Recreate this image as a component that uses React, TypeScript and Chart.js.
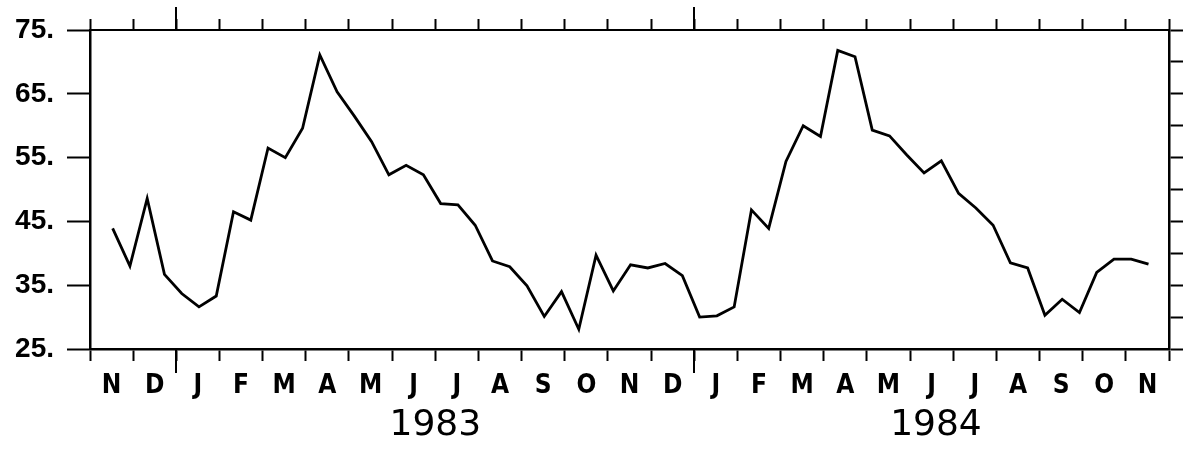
import React, { useEffect, useRef } from 'react';
import { Chart, registerables } from 'chart.js';

Chart.register(...registerables);

// Sampled series (one value every 0.4 month, starting mid-November 1982)
const VALUES = [
  43.9, 38.0, 48.6, 36.7, 33.7, 31.6, 33.3, 46.5, 45.2, 56.5,
  55.0, 59.6, 71.1, 65.3, 61.5, 57.5, 52.3, 53.8, 52.3, 47.8,
  47.6, 44.4, 38.8, 37.9, 34.9, 30.1, 34.0, 28.1, 39.7, 34.1,
  38.2, 37.7, 38.4, 36.5, 30.0, 30.2, 31.6, 46.8, 43.9, 54.4,
  60.0, 58.3, 71.8, 70.8, 59.3, 58.4, 55.4, 52.6, 54.5, 49.4,
  47.1, 44.4, 38.5, 37.7, 30.3, 32.8, 30.7, 37.0, 39.1, 39.1,
  38.3,
];
const FIRST_SAMPLE = 0.525; // months after 1 Nov 1982
const SAMPLE_STEP = 0.4; // months between samples

// Month boundaries (months after 1 Nov 1982) and their labels
const MONTH_EDGES = [
  0, 1, 2, 3, 4, 5, 6, 7, 8, 9, 10, 11, 12,
  13, 14, 15, 16, 17, 18, 19, 20, 21, 22, 23, 24, 25,
];
const MONTH_LABELS = [
  'N', 'D', 'J', 'F', 'M', 'A', 'M', 'J', 'J', 'A', 'S', 'O', 'N',
  'D', 'J', 'F', 'M', 'A', 'M', 'J', 'J', 'A', 'S', 'O', 'N',
];
const YEAR_STARTS = [2, 14];
const YEAR_LABELS = ['1983', '1984'];
const YEAR_LABEL_AT = [8.0, 19.6];

const Y_TICKS = [25, 30, 35, 40, 45, 50, 55, 60, 65, 70, 75];
const Y_TICK_LABELS = ['25.', '', '35.', '', '45.', '', '55.', '', '65.', '', '75.'];

const W = 1183;
const H = 450;
const PLOT_LEFT = 90;
const PLOT_RIGHT = 1169;
const PLOT_TOP = 30;
const PLOT_BOTTOM = 349;
const HALF_MONTH_PX = (PLOT_RIGHT - PLOT_LEFT) / (MONTH_EDGES.length - 1) / 2;

const BOLD_FONT = '"Liberation Sans", Arial, sans-serif';
const NARROW_FONT = '"Liberation Sans Narrow", "Arial Narrow", "DejaVu Sans Condensed", "Liberation Sans", sans-serif';

const yearPlugin = {
  id: 'yearMarks',
  afterDraw(chart: any) {
    const { ctx, chartArea } = chart;
    const xs = chart.scales.x;
    ctx.save();
    ctx.strokeStyle = '#000';
    ctx.lineWidth = 2;
    YEAR_STARTS.forEach((v) => {
      const px = Math.round(xs.getPixelForValue(v));
      ctx.beginPath();
      ctx.moveTo(px, chartArea.bottom);
      ctx.lineTo(px, chartArea.bottom + 24);
      ctx.moveTo(px, chartArea.top);
      ctx.lineTo(px, chartArea.top - 23);
      ctx.stroke();
    });
    ctx.fillStyle = '#000';
    ctx.font = '36px "DejaVu Sans", sans-serif';
    ctx.textAlign = 'center';
    ctx.textBaseline = 'middle';
    YEAR_LABELS.forEach((t, i) => {
      ctx.fillText(t, xs.getPixelForValue(YEAR_LABEL_AT[i]), chartArea.bottom + 77);
    });
    ctx.restore();
  },
};

export default function App() {
  const canvasRef = useRef<HTMLCanvasElement | null>(null);

  useEffect(() => {
    const canvas = canvasRef.current;
    if (!canvas) return;
    const points = VALUES.map((v, i) => ({ x: FIRST_SAMPLE + i * SAMPLE_STEP, y: v }));
    const chart = new Chart(canvas, {
      type: 'line',
      data: {
        datasets: [
          {
            data: points,
            borderColor: '#000',
            borderWidth: 2.8,
            borderJoinStyle: 'miter',
            pointRadius: 0,
            tension: 0,
            fill: false,
            xAxisID: 'x',
            yAxisID: 'y',
          },
        ],
      },
      options: {
        animation: false,
        responsive: false,
        devicePixelRatio: 1,
        events: [],
        layout: { padding: 0 },
        plugins: {
          legend: { display: false },
          tooltip: { enabled: false },
        },
        scales: {
          x: {
            type: 'linear',
            position: 'bottom',
            min: MONTH_EDGES[0],
            max: MONTH_EDGES[MONTH_EDGES.length - 1],
            afterBuildTicks: (s: any) => {
              s.ticks = MONTH_EDGES.map((v) => ({ value: v }));
            },
            afterFit: (s: any) => {
              s.height = H - PLOT_BOTTOM;
            },
            ticks: {
              autoSkip: false,
              maxRotation: 0,
              minRotation: 0,
              labelOffset: HALF_MONTH_PX,
              padding: 10,
              color: '#000',
              font: { family: NARROW_FONT, weight: 'bold', size: 26 },
              callback: (_v: any, i: number) => MONTH_LABELS[i] ?? '',
            },
            grid: {
              drawOnChartArea: false,
              drawTicks: true,
              tickLength: 12,
              tickWidth: 2,
              tickColor: '#000',
            },
            border: { display: true, width: 2.5, color: '#000' },
          },
          x2: {
            type: 'linear',
            position: 'top',
            min: MONTH_EDGES[0],
            max: MONTH_EDGES[MONTH_EDGES.length - 1],
            afterBuildTicks: (s: any) => {
              s.ticks = MONTH_EDGES.map((v) => ({ value: v }));
            },
            afterFit: (s: any) => {
              s.height = PLOT_TOP;
            },
            ticks: { display: false },
            grid: {
              drawOnChartArea: false,
              drawTicks: true,
              tickLength: 11,
              tickWidth: 2,
              tickColor: '#000',
            },
            border: { display: true, width: 2, color: '#000' },
          },
          y: {
            type: 'linear',
            position: 'left',
            min: Y_TICKS[0],
            max: Y_TICKS[Y_TICKS.length - 1],
            afterBuildTicks: (s: any) => {
              s.ticks = Y_TICKS.map((v) => ({ value: v }));
            },
            afterFit: (s: any) => {
              s.width = PLOT_LEFT;
            },
            ticks: {
              padding: 13,
              color: '#000',
              font: { family: BOLD_FONT, weight: 'bold', size: 28 },
              callback: (v: any) => {
                const k = Y_TICKS.indexOf(Number(v));
                return k >= 0 ? Y_TICK_LABELS[k] : '';
              },
            },
            grid: {
              drawOnChartArea: false,
              drawTicks: true,
              tickLength: 23,
              tickWidth: 2,
              tickColor: '#000',
            },
            border: { display: true, width: 2.5, color: '#000' },
          },
          y2: {
            type: 'linear',
            position: 'right',
            min: Y_TICKS[0],
            max: Y_TICKS[Y_TICKS.length - 1],
            afterBuildTicks: (s: any) => {
              s.ticks = Y_TICKS.map((v) => ({ value: v }));
            },
            afterFit: (s: any) => {
              s.width = W - PLOT_RIGHT;
            },
            ticks: { display: false },
            grid: {
              drawOnChartArea: false,
              drawTicks: true,
              tickLength: 14,
              tickWidth: 2,
              tickColor: '#000',
            },
            border: { display: true, width: 2.5, color: '#000' },
          },
        },
      } as any,
      plugins: [yearPlugin],
    });
    return () => chart.destroy();
  }, []);

  return (
    <div style={{ position: 'absolute', left: 0, top: 0, width: W, height: H, background: '#fff' }}>
      <canvas ref={canvasRef} width={W} height={H} style={{ display: 'block', width: W, height: H }} />
    </div>
  );
}
